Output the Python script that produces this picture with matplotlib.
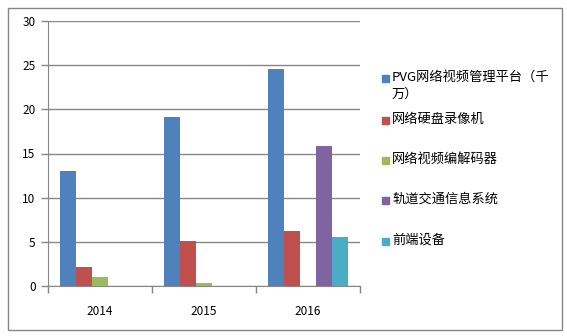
import numpy as np
import matplotlib
matplotlib.use('Agg')
import matplotlib.pyplot as plt
from matplotlib.patches import Rectangle

plt.rcParams['font.family'] = ['Noto Sans CJK SC', 'DejaVu Sans']

years = ['2014', '2015', '2016']
series = ['PVG网络视频管理平台（千\n万）', '网络硬盘录像机', '网络视频编解码器', '轨道交通信息系统', '前端设备']
pvg = [13.0, 19.1, 24.6]
nvr = [2.1, 5.1, 6.2]
codec = [1.0, 0.3, np.nan]
rail = [np.nan, np.nan, 15.8]
front = [np.nan, np.nan, 5.6]
colors = ['#4F81BD', '#C0504D', '#9BBB59', '#8064A2', '#4BACC6']

W, H = 567, 336
fig = plt.figure(figsize=(W / 100, H / 100), dpi=100)
ax = fig.add_axes([48 / W, 1 - 286 / H, 312 / W, 265 / H])

ind = np.arange(len(years))
width = 1 / 6.5
values = [pvg, nvr, codec, rail, front]
for i, vals in enumerate(values):
    ax.bar(ind + (i - 2) * width, vals, width, color=colors[i], zorder=3)

ax.set_xlim(-0.5, 2.5)
ax.set_ylim(0, 30)
ax.set_yticks(range(0, 31, 5))
ax.yaxis.grid(True, color='#868686', linewidth=1, zorder=0)
ax.set_xticks(ind)
ax.set_xticklabels(years)
ax.set_xticks([-0.5, 0.5, 1.5, 2.5], minor=True)
ax.tick_params(axis='x', which='major', length=0, pad=14, labelsize=8.5)
ax.tick_params(axis='x', which='minor', length=5, color='#868686', width=1)
ax.tick_params(axis='y', length=5, color='#868686', width=1, labelsize=8.5, pad=4)
for s in ['top', 'right']:
    ax.spines[s].set_visible(False)
for s in ['left', 'bottom']:
    ax.spines[s].set_color('#868686')

# legend
ys = [78, 120, 160, 200, 241]
for i, name in enumerate(series):
    y = ys[i]
    fig.patches.append(Rectangle((382 / W, 1 - (y + 4) / H), 7 / W, 7 / H,
                                 transform=fig.transFigure, color=colors[i]))
    fig.text(392 / W, 1 - (y - 7) / H, name, fontsize=9.5, va='top', ha='left',
             linespacing=1.35)

# outer border
fig.patches.append(Rectangle((8 / W, 1 - 330 / H), 554 / W, 322 / H,
                             transform=fig.transFigure, fill=False,
                             edgecolor='#868686', linewidth=1))

fig.savefig('out.png', dpi=100)
